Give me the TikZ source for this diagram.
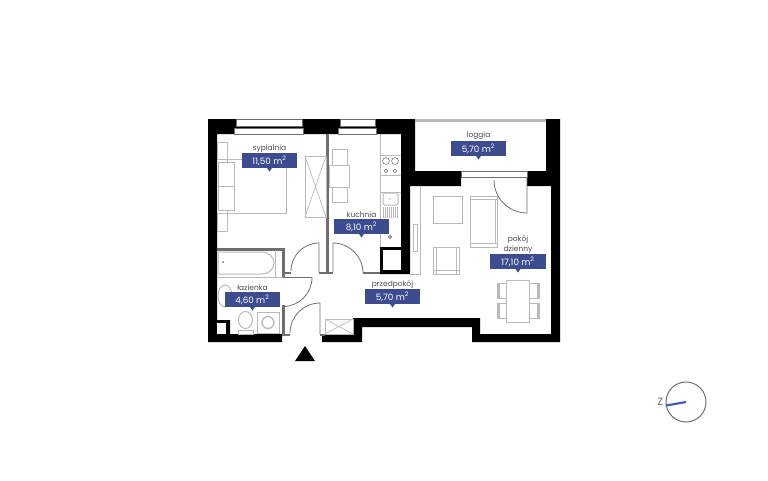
\documentclass[tikz,border=0pt]{standalone}
\usepackage{fontspec}
\setmainfont{Poppins}
\usetikzlibrary{positioning}
\definecolor{tagblue}{HTML}{3D4C8F}
\definecolor{needleblue}{HTML}{3F5BB5}
\definecolor{furngrey}{HTML}{B9B9B9}
\definecolor{partgrey}{HTML}{6E6E6E}
\definecolor{labelgrey}{HTML}{4A4A4A}
\tikzset{
  wall/.style={fill=black, draw=none},
  partition/.style={fill=partgrey, draw=none},
  furn/.style={draw=furngrey, line width=0.75pt, fill=white},
  door/.style={draw=partgrey, line width=0.6pt},
  pane/.style={draw=partgrey, line width=0.55pt, fill=white},
  areatag/.style={fill=tagblue, text=white, minimum width=41.5pt, minimum height=11.4pt, inner sep=0pt, font=\fontsize{6.6}{7}\selectfont},
  roomname/.style={text=labelgrey, inner sep=0pt, align=center, font=\fontsize{5.6}{7.4}\selectfont}
}
\begin{document}
\begin{tikzpicture}[x=0.75pt, y=-0.75pt]
  \useasboundingbox (0,0) rectangle (768,480);

  % Walls
  \path[wall] (208,119) -- (415,119) -- (415,171) -- (461,171) -- (461,186) -- (410,186) -- (410,274)
    -- (380,274) -- (380,247) -- (401,247) -- (401,134) -- (217,134) -- (217,320) -- (230,320) -- (230,334)
    -- (282,334) -- (282,342) -- (208,342) -- cycle;
  \path[wall] (527,171) -- (546,171) -- (546,119) -- (560,119) -- (560,342) -- (472,342) -- (472,327)
    -- (362,327) -- (362,342) -- (322,342) -- (322,334) -- (353,334) -- (353,318) -- (480,318) -- (480,334)
    -- (551,334) -- (551,186) -- (527,186) -- cycle;
  \fill[white] (383,250) rectangle (401,270);
  \fill[white] (217,323) rectangle (226,334);
  \path[partition] (326,134) rectangle (329,272);
  \path[partition] (217,248) rectangle (285,250.5);
  \path[partition] (282,248) rectangle (285,277);
  \path[partition] (282,305) rectangle (285,334);
  \path[partition] (285,272) rectangle (291,274);
  \path[partition] (319,272) rectangle (333,274);
  \path[partition] (363,272) rectangle (380,274);
  \path[partition] (282,334) rectangle (290,336);
  \path[partition] (320,334) rectangle (325,336);
  \fill[furngrey] (415,119) rectangle (546,122);

  % Windows
  \draw[pane] (236,119.5) rectangle (302,126);
  \draw[pane] (234,128) rectangle (303,134.5);
  \draw[pane] (340,119.5) rectangle (375,126);
  \draw[pane] (338,128) rectangle (376,134.5);
  \draw[pane] (461,171) rectangle (527,177.5);

  % Doors
  \draw[door] (319,272) -- (319,243) arc[start angle=270, end angle=180, radius=28];
  \draw[door] (333,272) -- (333,243) arc[start angle=270, end angle=360, radius=30];
  \draw[door] (283,277.5) -- (312,277.5) arc[start angle=0, end angle=90, radius=29];
  \draw[door] (320,334) -- (320,303) arc[start angle=270, end angle=180, radius=30];
  \draw[door] (527,178) -- (527,213) arc[start angle=90, end angle=180, radius=33];

  % Bedroom
  \draw[furn] (217,142) rectangle (227,159);
  \draw[furn] (217,213) rectangle (227,231);
  \draw[furn] (227,159) rectangle (286,213);
  \draw[furn] (218,162) rectangle (234,210);
  \draw[furngrey, line width=0.75pt] (218,186) -- (234,186);
  \draw[furn] (305,156) rectangle (326,217);
  \draw[furngrey, line width=0.5pt] (305,156) -- (326,217) (326,156) -- (305,217);

  % Kitchen
  \draw[furn] (332,149) rectangle (347,202);
  \draw[furn] (329,165) rectangle (349,187);
  \draw[furngrey, line width=0.75pt] (380,134) -- (380,247);
  \draw[furngrey, line width=0.75pt] (380,155) -- (401,155) (380,175) -- (401,175) (380,192) -- (401,192);
  \foreach \cx in {386,395} {
    \draw[partgrey, line width=0.45pt] (\cx,161) circle[radius=3.4];
    \draw[partgrey, line width=0.45pt] (\cx,171) circle[radius=1.7];
  }
  \draw[furngrey, line width=0.75pt, rounded corners=1pt] (383,193) rectangle (398,205);
  \foreach \rx in {383,385,...,397} {
    \draw[furngrey, line width=0.7pt] (\rx,207) -- (\rx,218);
  }
  \fill[partgrey] (390,199) circle[radius=0.7];
  \draw[partgrey, line width=0.45pt] (390,237) circle[radius=1.7];
  \fill[partgrey] (390,237) circle[radius=0.8];

  % Bathroom
  \draw[furngrey, line width=0.75pt] (217,277) -- (283,277) (275,250) -- (275,277);
  \draw[furn] (218,252) -- (262,252) to[out=0, in=90] (274,263) to[out=270, in=0] (262,274) -- (218,274) -- cycle;
  \fill[partgrey] (223,262) circle[radius=1];
  \draw[furn] (225,296) ellipse[x radius=7, y radius=11];
  \draw[furn] (238,330) rectangle (253,334);
  \draw[furn] (245.5,320) ellipse[x radius=7, y radius=8.5];
  \draw[furn] (257,312) rectangle (279,333);
  \draw[furngrey, line width=1pt] (268,322.5) circle[radius=6];

  % Hall
  \draw[furn] (325,319) rectangle (353,334);
  \draw[furngrey, line width=0.5pt] (325,319) -- (353,334) (353,319) -- (325,334);

  % Living room
  \draw[furngrey, line width=0.75pt] (420,186) -- (420,274) -- (410,274);
  \draw[furn] (413,224) rectangle (417,251);
  \draw[furn] (433,196) rectangle (462,223);
  \draw[furn] (470,196) rectangle (497,247);
  \draw[furngrey, line width=0.75pt] (470,199) -- (497,199) (470,243) -- (497,243) (495,199) -- (495,243);
  \draw[furn] (433,247) rectangle (459,274);
  \draw[furngrey, line width=0.75pt] (433,270) -- (459,270) (436,247) -- (436,274) (456,247) -- (456,274);
  \foreach \cy in {283,303} {
    \draw[furn] (497,\cy) rectangle (539,\cy+15);
    \fill[furngrey] (497,\cy) rectangle (499.5,\cy+15);
    \fill[furngrey] (536.5,\cy) rectangle (539,\cy+15);
  }
  \draw[furn] (506,280) rectangle (529,322);

  % Room labels
  \foreach \tagname/\tx/\ty/\area in {sypialnia/269.5/160.5/{11,50}, kuchnia/361.5/226.5/{8,10},
      loggia/478.5/148.5/{5,70}, lazienka/252.5/299.5/{4,60}, przedpokoj/392.5/296.5/{5,70}, dzienny/518/261.5/{17,10}} {
    \fill[tagblue] (\tx-3.5,\ty+6) -- (\tx+3.5,\ty+6) -- (\tx,\ty+11) -- cycle;
    \node[areatag] (\tagname) at (\tx,\ty) {\area\ m\textsuperscript{2}};
  }
  \node[roomname, above=0.3pt of sypialnia] (sypialnialabel) {sypialnia};
  \node[roomname, above=0.3pt of kuchnia] (kuchnialabel) {kuchnia};
  \node[roomname, above=0.3pt of loggia] (loggialabel) {loggia};
  \node[roomname, above=0.3pt of lazienka] (lazienkalabel) {łazienka};
  \node[roomname, above=0.3pt of przedpokoj] (przedpokojlabel) {przedpokój};
  \node[roomname, above=0.3pt of dzienny] (dziennylabel) {pokój\\dzienny};

  % Entrance and north
  \fill[black] (305,346) -- (315,361) -- (295,361) -- cycle;
  \node[circle, draw=partgrey, line width=0.75pt, minimum size=30pt, inner sep=0pt] (compass) at (686,402) {};
  \node[text=partgrey, inner sep=0pt, font=\fontsize{8}{9}\selectfont, left=1.5pt of compass] (north) {Z};
  \draw[needleblue, line width=1.6pt] (compass.center) -- (compass.190);
\end{tikzpicture}
\end{document}
